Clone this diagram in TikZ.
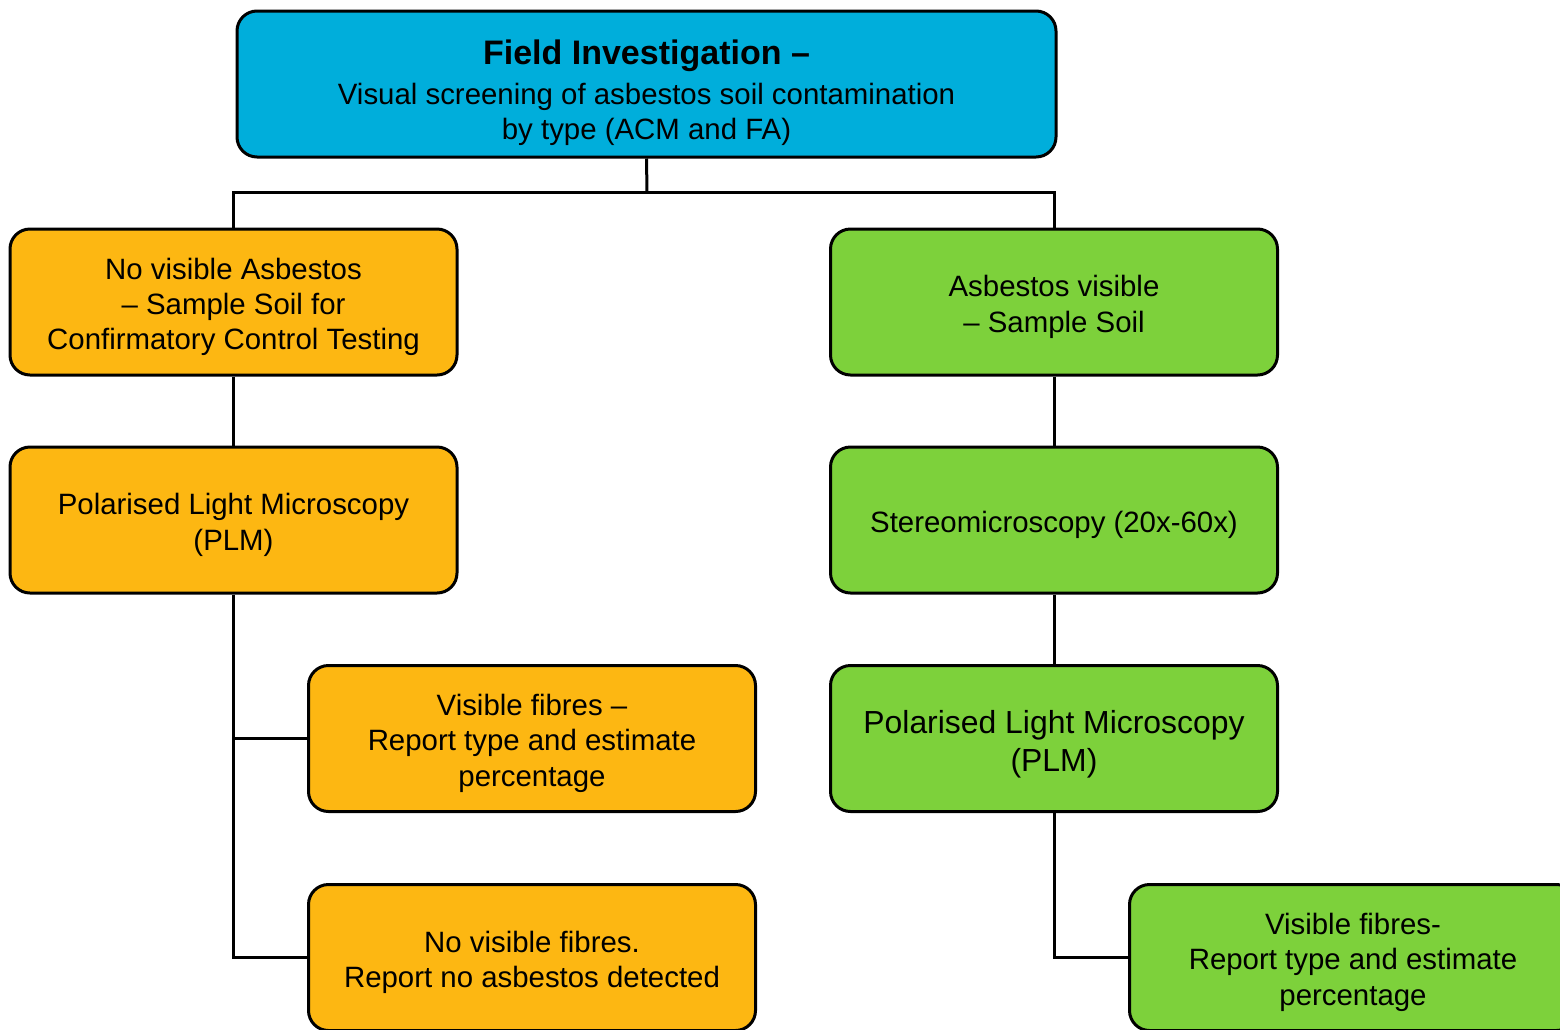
\documentclass[tikz,border=0pt]{standalone}
\usepackage{fontspec}
\setmainfont{Liberation Sans}
\definecolor{topblue}{RGB}{0,174,219}
\definecolor{orangebox}{RGB}{253,183,18}
\definecolor{greenbox}{RGB}{125,209,59}
\newcommand\toppad{\rule{0pt}{31pt}}
\tikzset{
  flowbox/.style={draw=black, line width=3pt, rounded corners=20pt,
    minimum width=447pt, minimum height=146pt, align=center, inner sep=0pt,
    font=\fontsize{29.4}{35.4}\selectfont},
  obox/.style={flowbox, fill=orangebox},
  gbox/.style={flowbox, fill=greenbox},
  link/.style={draw=black, line width=3pt}
}
\begin{document}
\begin{tikzpicture}[x=1pt,y=-1pt]
\useasboundingbox (0,0) rectangle (1560,1029);
\clip (0,0) rectangle (1560,1029);
\node[flowbox, fill=topblue, minimum width=819pt] (top) at (646.5,84)
  {{\fontsize{34}{41}\selectfont\bfseries\rule{0pt}{42pt}Field Investigation –}\\[5pt]
   Visual screening of asbestos soil contamination\\ by type (ACM and FA)};
\node[obox] (l1) at (233.5,302) {\toppad No visible Asbestos\\ – Sample Soil for\\ Confirmatory Control Testing};
\node[gbox] (r1) at (1054,302) {\toppad Asbestos visible\\ – Sample Soil};
\node[obox] (l2) at (233.5,520) {\toppad Polarised Light Microscopy\\ (PLM)};
\node[gbox] (r2) at (1054,520) {\toppad Stereomicroscopy (20x-60x)};
\node[obox] (l3) at (532,738.5) {\toppad Visible fibres –\\ Report type and estimate\\ percentage};
\node[gbox, font=\fontsize{31.9}{38}\selectfont] (r3) at (1054,738.5) {\rule{0pt}{34pt}Polarised Light Microscopy\\ (PLM)};
\node[obox] (l4) at (532,957.5) {\toppad No visible fibres.\\ Report no asbestos detected};
\node[gbox] (r4) at (1353,957.5) {\toppad Visible fibres-\\ Report type and estimate\\ percentage};
\coordinate (split) at (647,192);
\draw[link] (top.south) -- (split);
\draw[link, line join=miter] (l1.north) |- (split) -| (r1.north);
\draw[link] (l1.south) -- (l2.north);
\draw[link] (r1.south) -- (r2.north);
\draw[link] (r2.south) -- (r3.north);
\draw[link] (l2.south) |- (l4.west);
\draw[link] (l2.south |- l3.west) -- (l3.west);
\draw[link] (r3.south) |- (r4.west);
\end{tikzpicture}
\end{document}
